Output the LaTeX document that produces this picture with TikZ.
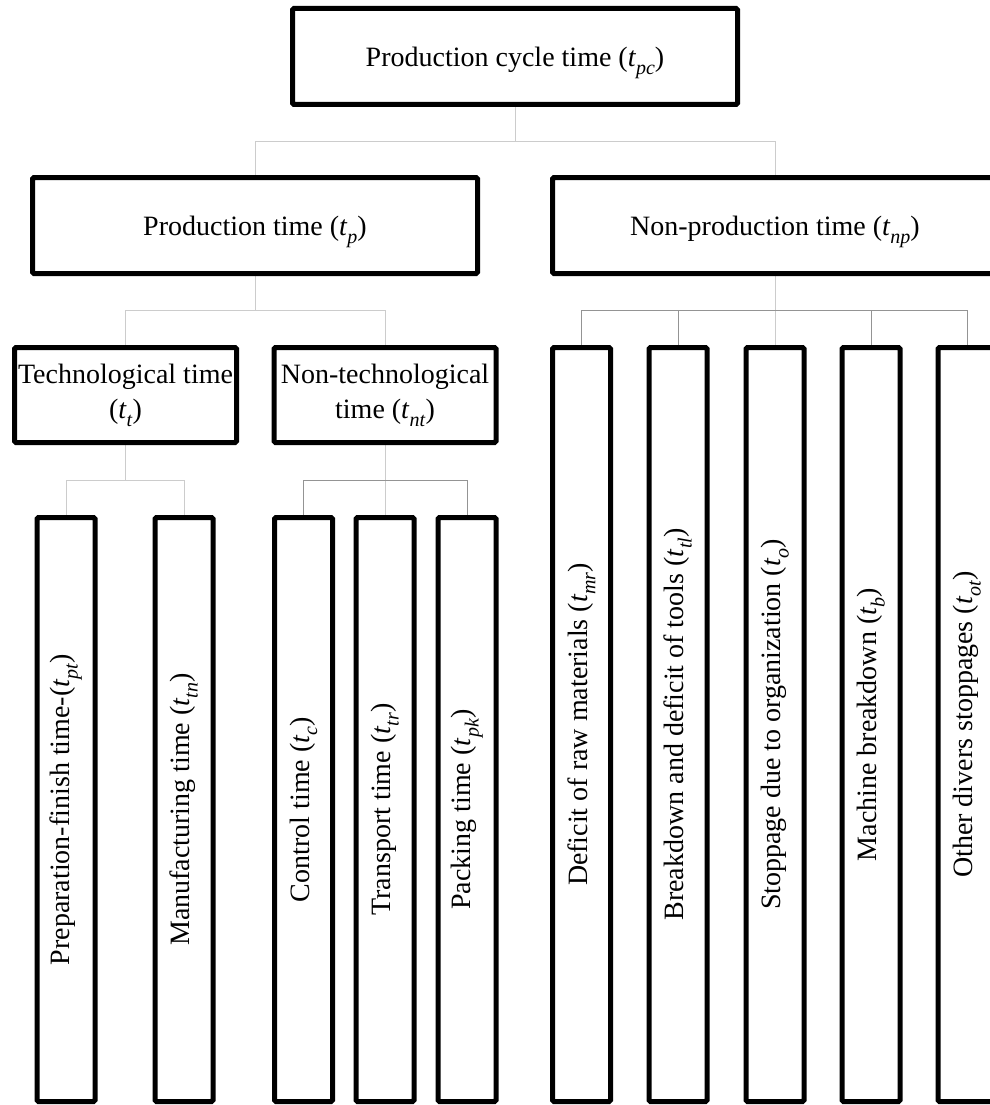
\documentclass[tikz,border=0pt]{standalone}
\usepackage{fontspec}
\setmainfont{Liberation Serif}
\usetikzlibrary{backgrounds}
\newcommand\tsb[1]{\textit{t}\raisebox{-0.28em}{\fontsize{20}{20}\selectfont\textit{#1}}}
\tikzset{
  box/.style={draw=black, line width=5pt, rounded corners=1.5pt, fill=white, inner sep=0pt,
    align=center, font=\fontsize{28}{35}\selectfont},
  bigbox/.style={box, minimum width=445pt, minimum height=96pt, text depth=0pt},
  midbox/.style={box, minimum width=222pt, minimum height=95pt},
  leafbox/.style={box, rotate=90, minimum height=58pt},
  light/.style={draw=black!20, line width=1pt},
  dark/.style={draw=black!42, line width=1pt}
}
\begin{document}
\begin{tikzpicture}[x=1pt,y=-1pt]
\useasboundingbox (0,0) rectangle (989,1105);
% level 0
\node[bigbox] (top) at (515,56.5) {Production cycle time (\tsb{pc})};
% level 1
\node[bigbox] (prod) at (255,225.5) {Production time (\tsb{p})};
\node[bigbox] (nprod) at (775,225.5) {Non-production time (\tsb{np})};
% level 2
\node[midbox] (tech) at (125.5,395) {Technological time\\(\tsb{t})};
\node[midbox] (ntech) at (385,395) {Non-technological\\time (\tsb{nt})};
% leaves under technological
\node[leafbox, minimum width=584pt] (pft) at (66,809.5) {Preparation-finish time-(\tsb{pt})};
\node[leafbox, minimum width=584pt] (man) at (184,809.5) {Manufacturing time (\tsb{tn})};
% leaves under non-technological
\node[leafbox, minimum width=584pt] (ctl) at (303.5,809.5) {Control time (\tsb{c})};
\node[leafbox, minimum width=584pt] (trn) at (385,809.5) {Transport time (\tsb{tr})};
\node[leafbox, minimum width=584pt] (pck) at (467,809.5) {Packing time (\tsb{pk})};
% leaves under non-production
\node[leafbox, minimum width=754pt] (raw) at (581.5,724.5) {Deficit of raw materials (\tsb{mr})};
\node[leafbox, minimum width=754pt] (tool) at (678,724.5) {Breakdown and deficit of tools (\tsb{tl})};
\node[leafbox, minimum width=754pt] (org) at (775,724.5) {Stoppage due to organization (\tsb{o})};
\node[leafbox, minimum width=754pt] (mach) at (871,724.5) {Machine breakdown (\tsb{b})};
\node[leafbox, minimum width=754pt] (oth) at (967,724.5) {Other divers stoppages (\tsb{ot})};
% junction coordinates
\coordinate (j0) at (515,141);
\coordinate (j1) at (255,310.5);
\coordinate (j2) at (775,310.5);
\coordinate (j3) at (125.5,480);
\coordinate (j4) at (385,480);
\begin{scope}[on background layer]
\draw[light] (top.south) -- (j0);
\draw[light] (j0) -| (prod.north);
\draw[light] (j0) -| (nprod.north);
\draw[light] (prod.south) -- (j1);
\draw[light] (j1) -| (tech.north);
\draw[light] (j1) -| (ntech.north);
\draw[light] (nprod.south) -- (j2);
\draw[dark] (j2) -| (raw.east);
\draw[dark] (j2) -| (tool.east);
\draw[light] (j2) -- (org.east);
\draw[dark] (j2) -| (mach.east);
\draw[dark] (j2) -| (oth.east);
\draw[light] (tech.south) -- (j3);
\draw[light] (j3) -| (pft.east);
\draw[light] (j3) -| (man.east);
\draw[light] (ntech.south) -- (j4);
\draw[dark] (j4) -| (ctl.east);
\draw[light] (j4) -- (trn.east);
\draw[dark] (j4) -| (pck.east);
\end{scope}
\end{tikzpicture}
\end{document}
